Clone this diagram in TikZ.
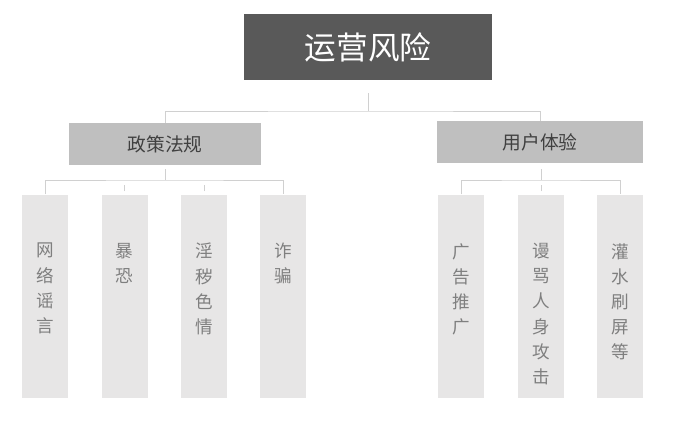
\documentclass[tikz,border=0pt]{standalone}
\usepackage{fontspec}
\newfontfamily\cjk{Noto Sans CJK SC}
\usetikzlibrary{positioning}
\definecolor{topgray}{HTML}{595959}
\definecolor{midgray}{HTML}{BFBFBF}
\definecolor{leafgray}{HTML}{E7E6E6}
\definecolor{linegray}{HTML}{D0D0D0}
\definecolor{leaftext}{HTML}{7F7F7F}

\begin{document}
\begin{tikzpicture}[
  x=0.03cm, y=-0.03cm,
  rootbox/.style={fill=topgray, text=white, minimum width=7.44cm, minimum height=1.98cm,
                  font=\cjk\fontsize{27}{30}\selectfont, inner sep=0pt},
  catbox/.style={fill=midgray, text=black!75, minimum height=1.25cm,
                 font=\cjk\fontsize{16}{19}\selectfont, inner sep=0pt},
  leafbox/.style={fill=leafgray, minimum width=1.38cm, minimum height=6.09cm, inner sep=0pt},
  leaflbl/.style={anchor=north, text=leaftext, align=center,
                  font=\cjk\fontsize{15}{21.5}\selectfont, inner sep=0pt},
  link/.style={draw=linegray, line width=0.8pt},
]
  \useasboundingbox (0,0) rectangle (678,444);

  % root and categories
  \node[rootbox] (risk) at (368,47) {运营风险};
  \node[catbox, minimum width=5.73cm] (policy) at (165,144) {政策法规};
  \node[catbox, minimum width=6.18cm] (user) at (540,142) {用户体验};

  \coordinate (rootdown) at (368,93);
  \coordinate (rootjoin) at (368,111);
  \draw[link] (rootdown) -- (rootjoin);
  \draw[link] (policy.north) |- (rootjoin) -| (user.north);

  % leaves
  \foreach \name/\x/\txt in {rumor/45/网\\络\\谣\\言, terror/124.5/暴\\恐, porn/204/淫\\秽\\色\\情, fraud/283/诈\\骗,
                             ads/461/广\\告\\推\\广, abuse/541/谩\\骂\\人\\身\\攻\\击, flood/620/灌\\水\\刷\\屏\\等}{
    \node[leafbox] (\name) at (\x,296) {};
    \node[leaflbl] (\name-lbl) at (\x,243) {\txt};
  }

  % policy branch
  \coordinate (policyjoin) at (165,180);
  \draw[link] (165,169) -- (policyjoin);
  \draw[link] (rumor.north) |- (policyjoin) -| (fraud.north);
  \draw[link] (terror.north) ++(0,-3) -- ++(0,-6);
  \draw[link] (porn.north) ++(0,-3) -- ++(0,-6);

  % user branch
  \coordinate (userjoin) at (541,180);
  \draw[link] (541,169) -- (userjoin);
  \draw[link] (ads.north) |- (userjoin) -| (flood.north);
  \draw[link] (abuse.north) ++(0,-3) -- ++(0,-6);
\end{tikzpicture}
\end{document}
